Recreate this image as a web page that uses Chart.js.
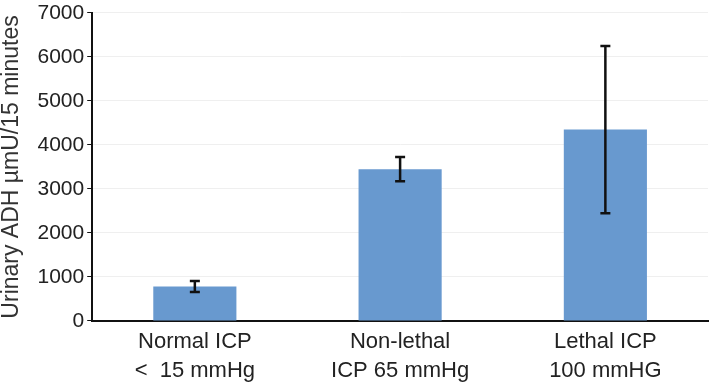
<!DOCTYPE html>
<html>
<head>
<meta charset="utf-8">
<script src="https://cdn.jsdelivr.net/npm/chart.js@4/dist/chart.umd.min.js"></script>
<style>
  html, body { margin: 0; padding: 0; background: #fff; }
</style>
</head>
<body>
<canvas id="adhChart" width="709" height="382"></canvas>
<script>
const categories = [
    ['Normal ICP', '<  15 mmHg'],
    ['Non-lethal', 'ICP 65 mmHg'],
    ['Lethal ICP', '100 mmHG']
];
const adhMeans = [780, 3450, 4350];
const adhErrors = [125, 275, 1900];
const yTicks = [0, 1000, 2000, 3000, 4000, 5000, 6000, 7000];

// draws the +/- error whiskers on top of each bar
const errorBars = {
    id: 'errorBars',
    afterDatasetsDraw(chart) {
        const ctx = chart.ctx;
        const meta = chart.getDatasetMeta(0);
        const y = chart.scales.y;
        ctx.save();
        ctx.strokeStyle = '#111';
        ctx.lineWidth = 2.5;
        meta.data.forEach((bar, i) => {
            const top = y.getPixelForValue(adhMeans[i] + adhErrors[i]);
            const bottom = y.getPixelForValue(adhMeans[i] - adhErrors[i]);
            ctx.beginPath();
            ctx.moveTo(bar.x, top);
            ctx.lineTo(bar.x, bottom);
            ctx.moveTo(bar.x - 5, top);
            ctx.lineTo(bar.x + 5, top);
            ctx.moveTo(bar.x - 5, bottom);
            ctx.lineTo(bar.x + 5, bottom);
            ctx.stroke();
        });
        ctx.restore();
    }
};

const font = 'Liberation Sans, Arial, sans-serif';
const ctx = document.getElementById('adhChart').getContext('2d');
new Chart(ctx, {
    type: 'bar',
    data: {
        labels: categories,
        datasets: [{
            data: adhMeans,
            backgroundColor: '#6899cf',
            barPercentage: 0.405,
            categoryPercentage: 1
        }]
    },
    options: {
        responsive: false,
        animation: false,
        layout: { padding: { left: 0, right: 1, top: 0, bottom: -9 } },
        plugins: {
            legend: { display: false },
            tooltip: { enabled: false }
        },
        scales: {
            x: {
                grid: { display: false, drawTicks: false },
                border: { color: '#111', width: 2 },
                ticks: {
                    color: '#222',
                    padding: 6,
                    font: { family: font, size: 22, lineHeight: 1.32 }
                }
            },
            y: {
                min: 0,
                max: 7000,
                afterBuildTicks: axis => { axis.ticks = yTicks.map(v => ({ value: v })); },
                grid: { color: '#efefef', tickColor: '#111', tickLength: 5 },
                border: { color: '#111', width: 2 },
                ticks: {
                    color: '#222',
                    padding: 3,
                    callback: v => String(v),
                    font: { family: font, size: 21, lineHeight: 0.95 }
                },
                title: {
                    display: true,
                    text: 'Urinary ADH µmU/15 minutes',
                    color: '#333',
                    padding: { top: 0, bottom: 11.5 },
                    font: { family: font, size: 23, lineHeight: 1 }
                }
            }
        }
    },
    plugins: [errorBars]
});
</script>
</body>
</html>
